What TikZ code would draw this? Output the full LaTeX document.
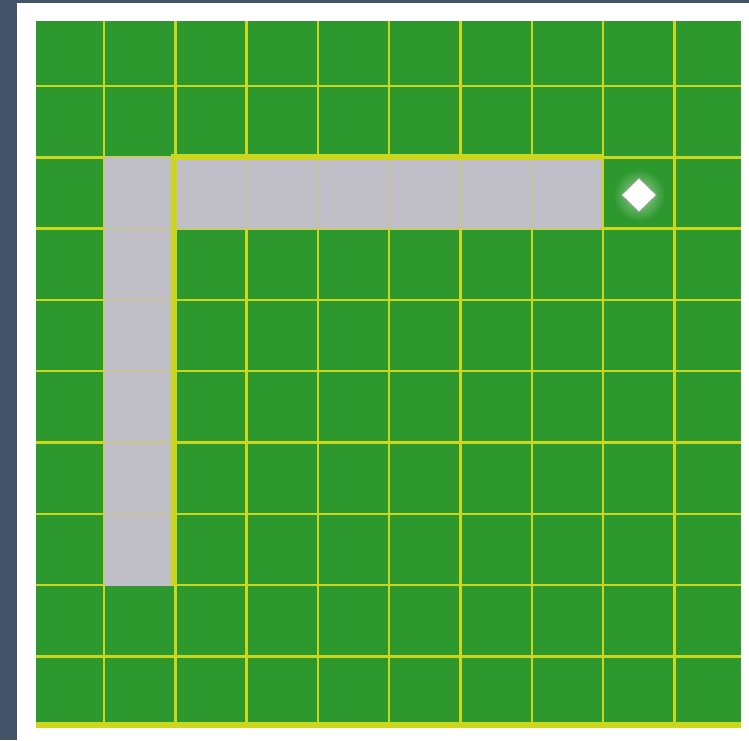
\documentclass[tikz,border=0pt]{standalone}
\usetikzlibrary{shapes.geometric}
\definecolor{frameblue}{RGB}{69,83,105}
\definecolor{turfgreen}{RGB}{44,152,46}
\definecolor{lineyellow}{RGB}{204,214,28}
\definecolor{roadgray}{RGB}{192,190,198}

\begin{document}
\begin{tikzpicture}[x=0.02cm, y=-0.02cm,
  gridline/.style={draw=lineyellow, line width=1.4pt},
  roadline/.style={draw=lineyellow!25!roadgray, line width=1.2pt},
  edgeline/.style={draw=lineyellow, line width=3.2pt},
  road/.style={fill=roadgray},
  goalmark/.style={diamond, fill=white, draw=gray!70, thin,
                   minimum width=0.7cm, minimum height=0.68cm, inner sep=0pt}]

  % frame and field
  \fill[frameblue] (0,0) rectangle (749,740);
  \fill[white] (17,3) rectangle (749,740);
  \fill[turfgreen] (36,21) rectangle (741,725);

  % grid lines
  \begin{scope}
    \clip (36,21) rectangle (741,725);
    \foreach \k in {0,...,8} {
      \draw[gridline] ({104+71.3*\k},21) -- ({104+71.3*\k},725);
      \draw[gridline] (36,{86+71.3*\k}) -- (741,{86+71.3*\k});
    }
  \end{scope}

  % L-shaped road, with faint cell seams
  \fill[road] (104,157) rectangle (602,229);
  \fill[road] (104,229) rectangle (174,586);
  \foreach \k in {2,...,6}
    \draw[roadline] ({104+71.3*\k},158) -- ({104+71.3*\k},228);
  \foreach \k in {2,...,6}
    \draw[roadline] (105,{86+71.3*\k}) -- (173,{86+71.3*\k});

  % bright edges
  \draw[edgeline] (602,157) -- (174,157) -- (174,586);
  \draw[edgeline] (36,725) -- (741,725);

  % goal
  \shade[inner color=white!55!turfgreen, outer color=turfgreen] (639,195) circle (26);
  \node[goalmark] (goal) at (639,195) {};
\end{tikzpicture}
\end{document}
